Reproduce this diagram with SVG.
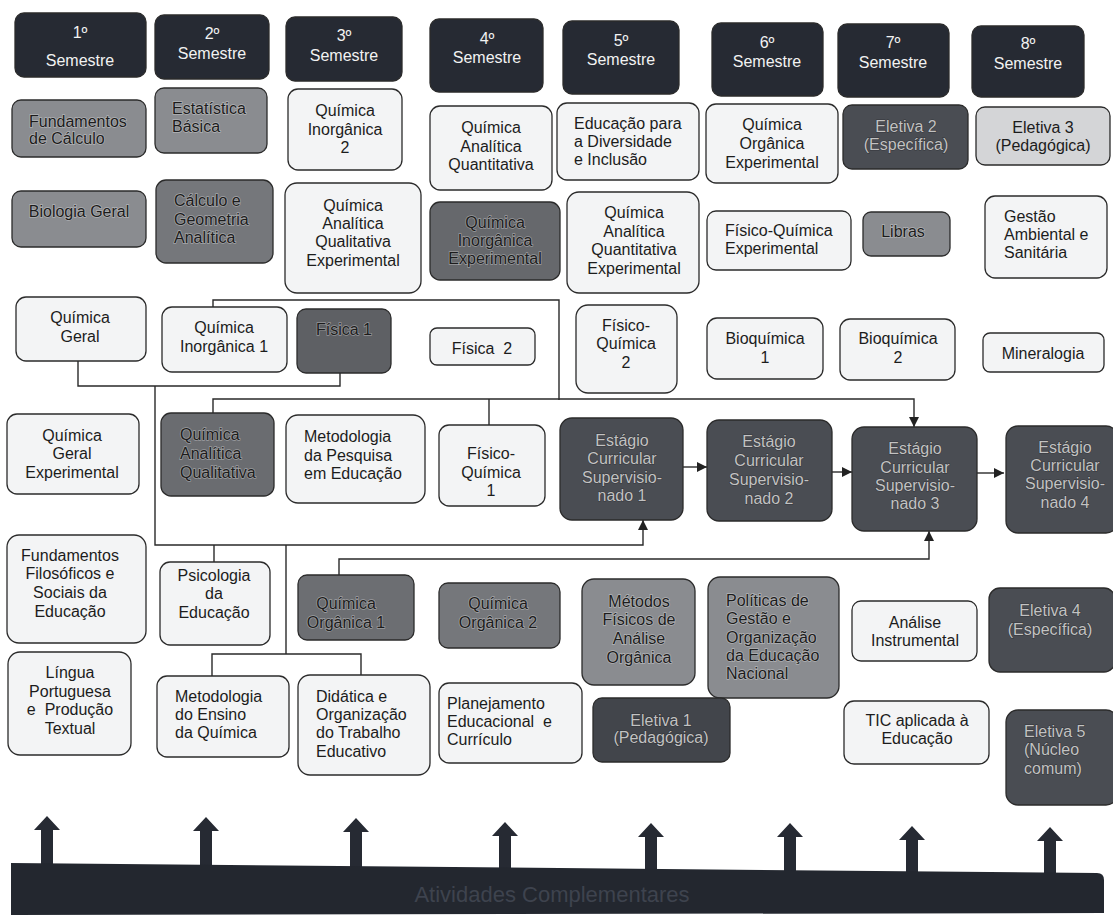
<svg xmlns="http://www.w3.org/2000/svg" width="1113" height="919" viewBox="0 0 1113 919">
<defs>
<style>
rect{stroke:#2b2b2b;stroke-width:1.3}
.hd{fill:#262a33}
.lt{fill:#f3f4f5}
.l2{fill:#d4d5d7}
.g1{fill:#8a8c90}
.g2{fill:#75777b}
.g3{fill:#66686c}
.dk{fill:#4a4d53}
text{font-family:"Liberation Sans",Arial,sans-serif;font-size:16px;fill:#1c1c1c}
.c{text-anchor:middle}
.w{fill:#f2f2f2}
.h{stroke:rgba(255,255,255,0.35);stroke-width:1.4px;paint-order:stroke}
.lg{fill:#c2c2c2;stroke:rgba(0,0,0,0.35);stroke-width:1px;paint-order:stroke}
.cn path{fill:none;stroke:#2a2a2a;stroke-width:1.4}
.blk{fill:#262a33}
</style>
<marker id="ah" viewBox="0 0 10 10" refX="10" refY="5" markerWidth="10" markerHeight="10" markerUnits="userSpaceOnUse" orient="auto"><path d="M0,0 L10,5 L0,10 z" fill="#222"/></marker>
</defs>
<rect x="0" y="0" width="1113" height="919" style="fill:#ffffff;stroke:none"/>

<!-- Semester headers -->
<g id="h1"><rect class="hd" x="15" y="13" width="131" height="64" rx="9"/><text class="c w" x="80" y="38">1º</text><text class="c w" x="80" y="66">Semestre</text></g>
<g id="h2"><rect class="hd" x="155" y="15" width="114" height="64" rx="9"/><text class="c w" x="212" y="39">2º</text><text class="c w" x="212" y="59">Semestre</text></g>
<g id="h3"><rect class="hd" x="286" y="17" width="116" height="64" rx="9"/><text class="c w" x="344" y="41">3º</text><text class="c w" x="344" y="61">Semestre</text></g>
<g id="h4"><rect class="hd" x="430" y="19" width="113" height="73" rx="9"/><text class="c w" x="487" y="44">4º</text><text class="c w" x="487" y="63">Semestre</text></g>
<g id="h5"><rect class="hd" x="563" y="21" width="116" height="73" rx="9"/><text class="c w" x="621" y="46">5º</text><text class="c w" x="621" y="65">Semestre</text></g>
<g id="h6"><rect class="hd" x="712" y="23" width="111" height="73" rx="9"/><text class="c w" x="767" y="48">6º</text><text class="c w" x="767" y="67">Semestre</text></g>
<g id="h7"><rect class="hd" x="838" y="24" width="111" height="73" rx="9"/><text class="c w" x="893" y="48">7º</text><text class="c w" x="893" y="68">Semestre</text></g>
<g id="h8"><rect class="hd" x="972" y="26" width="112" height="71" rx="9"/><text class="c w" x="1028" y="49">8º</text><text class="c w" x="1028" y="69">Semestre</text></g>

<!-- Connectors -->
<g id="connectors" class="cn">
<path d="M213 307 V300 H559 V400"/>
<path d="M213 413 V399 H914 V427" marker-end="url(#ah)"/>
<path d="M489 399 V425"/>
<path d="M78 361 V386 H340 V373"/>
<path d="M155 386 V545 H643 V520" marker-end="url(#ah)"/>
<path d="M214 545 V562"/>
<path d="M286 545 V654"/>
<path d="M212 676 V654 H361 V675"/>
<path d="M339 575 V559 H929 V531" marker-end="url(#ah)"/>
<path d="M683 467 H707" marker-end="url(#ah)"/>
<path d="M832 472 H852" marker-end="url(#ah)"/>
<path d="M977 473 H1004" marker-end="url(#ah)"/>
</g>

<!-- Row 1 -->
<g id="n-fund-calc"><rect class="g1" x="12" y="100" width="134" height="57" rx="9"/><text class="h" x="29" y="127">Fundamentos</text><text class="h" x="29" y="144">de Cálculo</text></g>
<g id="n-estat"><rect class="g1" x="155" y="88" width="112" height="65" rx="9"/><text class="h" x="172" y="114">Estatística</text><text class="h" x="172" y="132">Básica</text></g>
<g id="n-qi2"><rect class="lt" x="288" y="89" width="114" height="81" rx="10"/><text class="c" x="345" y="116">Química</text><text class="c" x="345" y="135">Inorgânica</text><text class="c" x="345" y="153">2</text></g>
<g id="n-qaquant"><rect class="lt" x="430" y="106" width="122" height="84" rx="10"/><text class="c" x="491" y="133">Química</text><text class="c" x="491" y="152">Analítica</text><text class="c" x="491" y="170">Quantitativa</text></g>
<g id="n-edu-div"><rect class="lt" x="557" y="103" width="142" height="77" rx="10"/><text x="574" y="129">Educação para</text><text x="574" y="147">a Diversidade</text><text x="574" y="165">e Inclusão</text></g>
<g id="n-qoe"><rect class="lt" x="706" y="104" width="132" height="79" rx="10"/><text class="c" x="772" y="130">Química</text><text class="c" x="772" y="149">Orgânica</text><text class="c" x="772" y="168">Experimental</text></g>
<g id="n-elet2"><rect class="dk" x="843" y="105" width="125" height="64" rx="9"/><text class="c lg" x="906" y="132">Eletiva 2</text><text class="c lg" x="906" y="150">(Específica)</text></g>
<g id="n-elet3"><rect class="l2" x="976" y="107" width="134" height="58" rx="9"/><text class="c" x="1043" y="133">Eletiva 3</text><text class="c" x="1043" y="151">(Pedagógica)</text></g>

<!-- Row 2 -->
<g id="n-bio"><rect class="g1" x="12" y="191" width="134" height="56" rx="9"/><text class="c h" x="79" y="217">Biologia Geral</text></g>
<g id="n-calc-geo"><rect class="g2" x="156" y="180" width="117" height="83" rx="10"/><text class="h" x="174" y="206">Cálculo e</text><text class="h" x="174" y="225">Geometria</text><text class="h" x="174" y="243">Analítica</text></g>
<g id="n-qaqe"><rect class="lt" x="285" y="183" width="136" height="110" rx="12"/><text class="c" x="353" y="211">Química</text><text class="c" x="353" y="229">Analítica</text><text class="c" x="353" y="247">Qualitativa</text><text class="c" x="353" y="266">Experimental</text></g>
<g id="n-qie"><rect class="g3" x="430" y="202" width="130" height="78" rx="10"/><text class="c h" x="495" y="228">Química</text><text class="c h" x="495" y="246">Inorgânica</text><text class="c h" x="495" y="264">Experimental</text></g>
<g id="n-qaquante"><rect class="lt" x="567" y="192" width="132" height="101" rx="12"/><text class="c" x="634" y="218">Química</text><text class="c" x="634" y="237">Analítica</text><text class="c" x="634" y="255">Quantitativa</text><text class="c" x="634" y="274">Experimental</text></g>
<g id="n-fqe"><rect class="lt" x="707" y="211" width="144" height="59" rx="9"/><text x="725" y="236">Físico-Química</text><text x="725" y="254">Experimental</text></g>
<g id="n-libras"><rect class="g1" x="863" y="212" width="87" height="44" rx="8"/><text class="c h" x="903" y="237">Libras</text></g>
<g id="n-gestao"><rect class="lt" x="985" y="196" width="122" height="82" rx="10"/><text x="1004" y="222">Gestão</text><text x="1004" y="240">Ambiental e</text><text x="1004" y="258">Sanitária</text></g>

<!-- Row 3 -->
<g id="n-qg"><rect class="lt" x="16" y="297" width="130" height="64" rx="10"/><text class="c" x="80" y="323">Química</text><text class="c" x="80" y="342">Geral</text></g>
<g id="n-qi1"><rect class="lt" x="162" y="307" width="125" height="65" rx="10"/><text class="c" x="224" y="333">Química</text><text class="c" x="224" y="352">Inorgânica 1</text></g>
<g id="n-fis1"><rect class="g3" x="297" y="309" width="94" height="64" rx="9" style="fill:#5e6064"/><text class="c h" x="344" y="335">Física 1</text></g>
<g id="n-fis2"><rect class="lt" x="430" y="328" width="105" height="37" rx="7"/><text class="c" x="482" y="354">Física&#160; 2</text></g>
<g id="n-fq2"><rect class="lt" x="576" y="305" width="101" height="88" rx="12"/><text class="c" x="626" y="331">Físico-</text><text class="c" x="626" y="349">Química</text><text class="c" x="626" y="368">2</text></g>
<g id="n-bq1"><rect class="lt" x="707" y="318" width="116" height="61" rx="10"/><text class="c" x="765" y="344">Bioquímica</text><text class="c" x="765" y="363">1</text></g>
<g id="n-bq2"><rect class="lt" x="840" y="319" width="115" height="61" rx="10"/><text class="c" x="898" y="344">Bioquímica</text><text class="c" x="898" y="363">2</text></g>
<g id="n-mineral"><rect class="lt" x="983" y="333" width="121" height="39" rx="7"/><text class="c" x="1043" y="359">Mineralogia</text></g>

<!-- Row 4 -->
<g id="n-qge"><rect class="lt" x="7" y="414" width="132" height="80" rx="10"/><text class="c" x="72" y="441">Química</text><text class="c" x="72" y="459">Geral</text><text class="c" x="72" y="478">Experimental</text></g>
<g id="n-qaq"><rect class="g3" x="161" y="413" width="113" height="83" rx="10" style="fill:#6a6c70"/><text class="h" x="180" y="440">Química</text><text class="h" x="180" y="459">Analítica</text><text class="h" x="180" y="478">Qualitativa</text></g>
<g id="n-metpesq"><rect class="lt" x="286" y="415" width="139" height="88" rx="12"/><text x="304" y="442">Metodologia</text><text x="304" y="461">da Pesquisa</text><text x="304" y="479">em Educação</text></g>
<g id="n-fq1"><rect class="lt" x="439" y="425" width="106" height="81" rx="10"/><text class="c" x="491" y="459">Físico-</text><text class="c" x="491" y="478">Química</text><text class="c" x="491" y="496">1</text></g>
<g id="n-est1"><rect class="dk" x="560" y="418" width="123" height="102" rx="12"/><text class="c lg" x="622" y="446">Estágio</text><text class="c lg" x="622" y="464">Curricular</text><text class="c lg" x="622" y="483">Supervisio-</text><text class="c lg" x="622" y="501">nado 1</text></g>
<g id="n-est2"><rect class="dk" x="707" y="420" width="125" height="101" rx="12"/><text class="c lg" x="769" y="447">Estágio</text><text class="c lg" x="769" y="466">Curricular</text><text class="c lg" x="769" y="485">Supervisio-</text><text class="c lg" x="769" y="504">nado 2</text></g>
<g id="n-est3"><rect class="dk" x="852" y="427" width="125" height="104" rx="12"/><text class="c lg" x="915" y="454">Estágio</text><text class="c lg" x="915" y="473">Curricular</text><text class="c lg" x="915" y="491">Supervisio-</text><text class="c lg" x="915" y="509">nado 3</text></g>
<g id="n-est4"><rect class="dk" x="1006" y="426" width="112" height="107" rx="12"/><text class="c lg" x="1065" y="453">Estágio</text><text class="c lg" x="1065" y="471">Curricular</text><text class="c lg" x="1065" y="489">Supervisio-</text><text class="c lg" x="1065" y="508">nado 4</text></g>

<!-- Row 5 -->
<g id="n-ffse"><rect class="lt" x="7" y="535" width="139" height="108" rx="12"/><text class="c" x="70" y="561">Fundamentos</text><text class="c" x="70" y="579">Filosóficos e</text><text class="c" x="70" y="598">Sociais da</text><text class="c" x="70" y="617">Educação</text></g>
<g id="n-psico"><rect class="lt" x="160" y="562" width="110" height="83" rx="10"/><text class="c" x="214" y="581">Psicologia</text><text class="c" x="214" y="599">da</text><text class="c" x="214" y="618">Educação</text></g>
<g id="n-qo1"><rect class="g3" x="298" y="575" width="116" height="65" rx="9" style="fill:#6c6e72"/><text class="c h" x="346" y="609">Química</text><text class="c h" x="346" y="628">Orgânica 1</text></g>
<g id="n-qo2"><rect class="g2" x="439" y="583" width="121" height="65" rx="9"/><text class="c h" x="498" y="609">Química</text><text class="c h" x="498" y="628">Orgânica 2</text></g>
<g id="n-metfis"><rect class="g1" x="582" y="579" width="113" height="106" rx="12"/><text class="c h" x="639" y="607">Métodos</text><text class="c h" x="639" y="625">Físicos de</text><text class="c h" x="639" y="644">Análise</text><text class="c h" x="639" y="663">Orgânica</text></g>
<g id="n-politicas"><rect class="g1" x="708" y="577" width="131" height="121" rx="12"/><text class="h" x="726" y="606">Políticas de</text><text class="h" x="726" y="624">Gestão e</text><text class="h" x="726" y="643">Organização</text><text class="h" x="726" y="661">da Educação</text><text class="h" x="726" y="679">Nacional</text></g>
<g id="n-analise"><rect class="lt" x="852" y="601" width="125" height="60" rx="9"/><text class="c" x="915" y="628">Análise</text><text class="c" x="915" y="646">Instrumental</text></g>
<g id="n-elet4"><rect class="dk" x="989" y="588" width="126" height="84" rx="11"/><text class="c lg" x="1050" y="616">Eletiva 4</text><text class="c lg" x="1050" y="635">(Específica)</text></g>

<!-- Row 6 -->
<g id="n-lppt"><rect class="lt" x="8" y="652" width="123" height="103" rx="12"/><text class="c" x="70" y="678">Língua</text><text class="c" x="70" y="697">Portuguesa</text><text class="c" x="70" y="715">e&#160; Produção</text><text class="c" x="70" y="734">Textual</text></g>
<g id="n-metens"><rect class="lt" x="157" y="676" width="132" height="81" rx="10"/><text x="175" y="702">Metodologia</text><text x="175" y="720">do Ensino</text><text x="175" y="738">da Química</text></g>
<g id="n-didat"><rect class="lt" x="298" y="675" width="132" height="100" rx="12"/><text x="316" y="702">Didática e</text><text x="316" y="720">Organização</text><text x="316" y="738">do Trabalho</text><text x="316" y="757">Educativo</text></g>
<g id="n-planej"><rect class="lt" x="439" y="683" width="143" height="80" rx="10"/><text x="447" y="709">Planejamento</text><text x="447" y="727">Educacional&#160; e</text><text x="447" y="745">Currículo</text></g>
<g id="n-elet1"><rect class="dk" x="593" y="698" width="137" height="64" rx="9" style="fill:#42454b"/><text class="c lg" x="661" y="726">Eletiva 1</text><text class="c lg" x="661" y="743">(Pedagógica)</text></g>
<g id="n-tic"><rect class="lt" x="844" y="701" width="145" height="63" rx="10"/><text class="c" x="917" y="726">TIC aplicada à</text><text class="c" x="917" y="744">Educação</text></g>
<g id="n-elet5"><rect class="dk" x="1006" y="710" width="112" height="95" rx="12"/><text class="lg" x="1024" y="737">Eletiva 5</text><text class="lg" x="1024" y="755">(Núcleo</text><text class="lg" x="1024" y="774">comum)</text></g>

<!-- Activity arrows -->
<g id="activity-arrows" class="blk">
<polygon points="47,816 60,830 53,830 53,865 41,865 41,830 34,830"/>
<polygon points="206,817 219,831 212,831 212,867 200,867 200,831 193,831"/>
<polygon points="356,818 369,832 362,832 362,868 350,868 350,832 343,832"/>
<polygon points="505,822 518,836 511,836 511,869 499,869 499,836 492,836"/>
<polygon points="651,823 664,837 657,837 657,871 645,871 645,837 638,837"/>
<polygon points="790,823 803,837 796,837 796,872 784,872 784,837 777,837"/>
<polygon points="912,826 925,840 918,840 918,873 906,873 906,840 899,840"/>
<polygon points="1050,827 1063,841 1056,841 1056,874 1044,874 1044,841 1037,841"/>
</g>

<!-- Activities bar -->
<g id="n-atividades">
<path d="M11 863 L1097 873 Q1104 873 1104 880 L1104 913 L11 915 Z" fill="#23272f"/>
<text class="c" x="552" y="902" style="font-size:22px;fill:#3e434e">Atividades Complementares</text>
</g>
</svg>
